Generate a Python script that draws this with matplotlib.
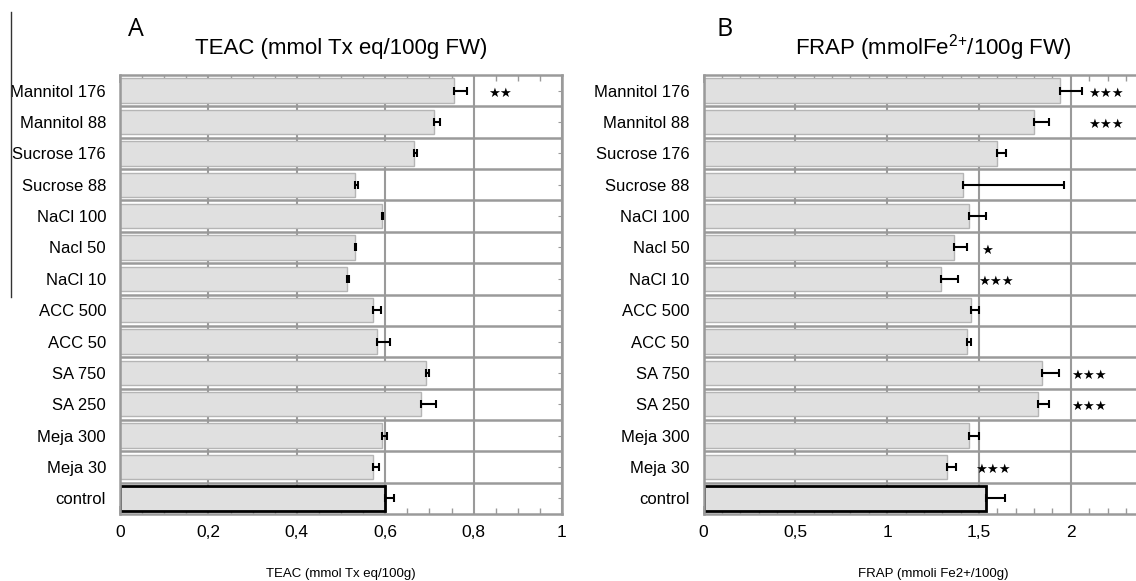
import numpy as np
import matplotlib
matplotlib.use('Agg')
import matplotlib.pyplot as plt
from matplotlib.lines import Line2D
from matplotlib.ticker import MultipleLocator, FixedLocator, FuncFormatter

plt.rcParams['font.family'] = ['Liberation Sans', 'DejaVu Sans']
plt.rcParams['mathtext.default'] = 'regular'

# treatments, top to bottom
treatments = ['Mannitol 176', 'Mannitol 88', 'Sucrose 176', 'Sucrose 88', 'NaCl 100',
              'Nacl 50', 'NaCl 10', 'ACC 500', 'ACC 50', 'SA 750', 'SA 250',
              'Meja 300', 'Meja 30', 'control']

teac = [0.755, 0.71, 0.665, 0.532, 0.593, 0.532, 0.513, 0.573, 0.582, 0.693, 0.682,
        0.593, 0.572, 0.599]
teac_err = [0.03, 0.015, 0.007, 0.007, 0.003, 0.003, 0.004, 0.018, 0.028, 0.005, 0.033,
            0.012, 0.014, 0.02]
teac_sig = {'Mannitol 176': (2, 0.86)}

frap = [1.94, 1.80, 1.60, 1.415, 1.443, 1.365, 1.294, 1.455, 1.435, 1.843, 1.824,
        1.443, 1.325, 1.537]
frap_err = [0.12, 0.08, 0.045, 0.55, 0.096, 0.072, 0.094, 0.043, 0.02, 0.094, 0.055,
            0.055, 0.05, 0.106]
frap_sig = {'Mannitol 176': (3, 2.19), 'Mannitol 88': (3, 2.19),
            'Nacl 50': (1, 1.545), 'NaCl 10': (3, 1.59),
            'SA 750': (3, 2.10), 'SA 250': (3, 2.10), 'Meja 30': (3, 1.575)}

GRID = '#9a9a9a'


def comma(x, pos):
    return ('%g' % x).replace('.', ',')


def draw_panel(ax, values, errors, sig, xmax, major, minor, last_label, title, xlabel):
    n = len(treatments)
    y = np.arange(n)
    colors = ['#e0e0e0'] * n
    edges = ['#b5b5b5'] * (n - 1) + ['black']
    widths = [1.0] * (n - 1) + [2.0]
    ax.barh(y, values, height=0.78, color=colors, edgecolor=edges, linewidth=widths, zorder=2)
    ax.errorbar(values, y, xerr=[np.zeros(n), errors], fmt='none', ecolor='black',
                elinewidth=1.5, capsize=3, capthick=1.5, zorder=3)
    # significance stars
    for name, (count, xpos) in sig.items():
        ax.text(xpos, treatments.index(name) + 0.08, '\u2605' * count,
                ha='center', va='center', fontsize=9.5, family='DejaVu Sans', zorder=4)

    ax.set_ylim(n - 0.5, -0.5)
    ax.set_xlim(0, xmax)
    ax.set_yticks(y)
    ax.set_yticklabels(treatments, fontsize=12)

    # category separators with tick marks on them
    majors = np.arange(major, xmax, major)
    for b in np.arange(0.5, n - 0.5, 1):
        ax.axhline(b, color=GRID, lw=1.8, zorder=1.5)
        ax.plot(majors, [b] * len(majors), ls='none', marker='|', ms=7, mew=1.2,
                color=GRID, zorder=1.6)

    ax.xaxis.set_major_locator(FixedLocator(np.arange(0, last_label + major / 2, major)))
    ax.xaxis.set_minor_locator(MultipleLocator(minor))
    ax.xaxis.set_major_formatter(FuncFormatter(comma))
    ax.grid(axis='x', which='major', color=GRID, lw=1.5, zorder=0)
    ax.set_axisbelow(True)
    ax.tick_params(axis='x', which='both', direction='in', top=True, color=GRID,
                   labelsize=12.5, pad=8)
    ax.tick_params(axis='x', which='major', length=6, width=1.2)
    ax.tick_params(axis='x', which='minor', length=4, width=1)
    ax.tick_params(axis='y', direction='in', right=True, length=3, color=GRID, pad=10)
    for sp in ax.spines.values():
        sp.set_color(GRID)
        sp.set_linewidth(1.8)

    ax.set_title(title, fontsize=16, pad=15)
    ax.set_xlabel(xlabel, fontsize=9.5, labelpad=20)


fig = plt.figure(figsize=(11.36, 5.81), dpi=100)
ax1 = fig.add_axes([120 / 1136, 1 - 514 / 581, 442 / 1136, 439 / 581])
ax2 = fig.add_axes([703.6 / 1136, 1 - 514 / 581, 459 / 1136, 439 / 581])

draw_panel(ax1, teac, teac_err, teac_sig, 1.0, 0.2, 0.05, 1.0,
           'TEAC (mmol Tx eq/100g FW)', 'TEAC (mmol Tx eq/100g)')
draw_panel(ax2, frap, frap_err, frap_sig, 2.5, 0.5, 0.1, 2.0,
           'FRAP (mmolFe$^{2{+}}$/100g FW)', 'FRAP (mmoli Fe2+/100g)')

fig.text(136 / 1136, 1 - 30 / 581, 'A', fontsize=18, ha='center', va='center',
         family=['Open Sans', 'DejaVu Sans'])
fig.text(725 / 1136, 1 - 30 / 581, 'B', fontsize=18, ha='center', va='center',
         family=['Open Sans', 'DejaVu Sans'])
fig.add_artist(Line2D([11 / 1136, 11 / 1136], [1 - 12 / 581, 1 - 297 / 581],
                      color='#333333', lw=1))

fig.savefig('out.png', dpi=100)
